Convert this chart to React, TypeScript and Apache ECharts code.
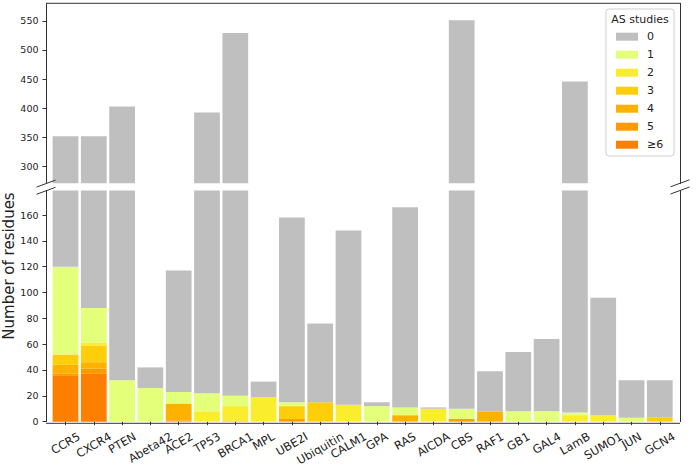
import React, { useEffect, useRef } from 'react';
import * as echarts from 'echarts';

const categories = ['CCR5', 'CXCR4', 'PTEN', 'Abeta42', 'ACE2', 'TP53', 'BRCA1', 'MPL', 'UBE2I', 'Ubiquitin', 'CALM1', 'GPA', 'RAS', 'AICDA', 'CBS', 'RAF1', 'GB1', 'GAL4', 'LamB', 'SUMO1', 'JUN', 'GCN4'];

// residues per number of AS studies (stack order bottom -> top)
const studies6 = [36, 37, 0, 0, 0, 0, 0, 0, 0, 0, 0, 0, 0, 0, 0, 0, 0, 0, 0, 0, 0, 0];
const studies5 = [1, 4, 0, 0, 1, 0, 0, 0, 2, 0, 0, 0, 0, 0, 2, 0, 0, 0, 0, 0, 0, 0];
const studies4 = [7, 5, 0, 0, 13, 0, 0, 0, 0, 0, 0, 0, 5, 0, 0, 8, 0, 0, 0, 0, 0, 0];
const studies3 = [8, 13, 0, 0, 0, 0, 1, 0, 10, 15, 0, 0, 0, 0, 0, 0, 0, 0, 0, 0, 0, 3];
const studies2 = [0, 2, 0, 0, 0, 8, 11, 19, 0, 0, 13, 0, 0, 10, 0, 0, 0, 0, 5, 5, 0, 0];
const studies1 = [68, 27, 32, 26, 9, 14, 8, 0, 3, 0, 0, 12, 6, 0, 8, 0, 8, 8, 2, 0, 3, 0];
const studies0 = [232, 264, 371, 16, 94, 371, 509, 12, 143, 61, 135, 3, 155, 1, 541, 31, 46, 56, 439, 91, 29, 29];

const seriesNames = ['≥6', '5', '4', '3', '2', '1', '0'];
const seriesData = [studies6, studies5, studies4, studies3, studies2, studies1, studies0];
const seriesColors = ['#fc7f00', '#fe9900', '#ffb100', '#ffce0a', '#faed2d', '#e4ff7a', '#bfbfbf'];
const legendOrder = ['0', '1', '2', '3', '4', '5', '≥6'];

const topTicks = [300, 350, 400, 450, 500, 550];
const bottomTicks = [0, 20, 40, 60, 80, 100, 120, 140, 160];

const FONT = "'DejaVu Sans', sans-serif";
const TXT = '#222';
const AX = '#333';

export default function App() {
  const ref = useRef<HTMLDivElement>(null);
  useEffect(() => {
    const chart = echarts.init(ref.current!, null, { renderer: 'svg' });

    const AXL = 46, AXR = 680;
    const GL = 51.35, GR = 697 - 673.95;
    const TOP_T = 3.3, TOP_H = 180;
    const BOT_T = 190.5, BOT_H = 232.8;
    const AXIS_Y = BOT_T + BOT_H;

    // rotated label placement like matplotlib (rotation 30, ha center, va top)
    const XFS = 11.5;
    const canvas = document.createElement('canvas');
    const ctx = canvas.getContext('2d')!;
    ctx.font = `${XFS}px 'DejaVu Sans'`;
    const PAD = 8;
    const rich: any = {};
    categories.forEach((c, i) => {
      const w = ctx.measureText(c).width;
      const h = XFS * 1.17;
      const H = 0.5 * w + 0.866 * h;
      const D = PAD + H / 2;
      rich['p' + i] = { fontSize: XFS, fontFamily: FONT, color: TXT, padding: [1.732 * D, D, 0, 0] };
    });

    const series: any[] = [];
    [0, 1].forEach((g) => {
      seriesNames.forEach((name, k) => {
        series.push({
          type: 'bar',
          name,
          xAxisIndex: g,
          yAxisIndex: g === 0 ? 0 : 2,
          stack: g === 0 ? 'top' : 'bottom',
          data: seriesData[k],
          barCategoryGap: '9%',
          itemStyle: { color: seriesColors[k] },
          clip: true,
          emphasis: { disabled: true },
        });
      });
    });

    const yCommon = {
      type: 'value',
      offset: GL - AXL,
      splitLine: { show: false },
      axisLine: { show: true, lineStyle: { color: AX, width: 1 } },
      axisTick: { show: true, length: 3.5, lineStyle: { color: AX } },
    };
    const yRight = (gridIndex: number) => ({
      type: 'value', gridIndex, position: 'right', offset: AXR - (697 - GR), min: 0, max: 1,
      splitLine: { show: false }, axisLabel: { show: false }, axisTick: { show: false },
      axisLine: { show: true, lineStyle: { color: AX, width: 1 } },
    });

    const brk = (cx: number, cy: number) => ({
      type: 'line', z: 10,
      shape: { x1: cx - 9.5, y1: cy + 3.5, x2: cx + 9.5, y2: cy - 3.5 },
      style: { stroke: AX, lineWidth: 1 },
    });

    const option: any = {
      animation: false,
      backgroundColor: '#fff',
      textStyle: { fontFamily: FONT },
      grid: [
        { left: GL, right: GR, top: TOP_T, height: TOP_H },
        { left: GL, right: GR, top: BOT_T, height: BOT_H },
      ],
      xAxis: [
        { type: 'category', gridIndex: 0, data: categories, show: false },
        {
          type: 'category', gridIndex: 1, data: categories,
          axisLine: { show: false },
          axisTick: { show: true, alignWithLabel: true, length: 3.5, lineStyle: { color: AX } },
          axisLabel: {
            interval: 0, rotate: 30, margin: 0, align: 'center', verticalAlign: 'middle',
            formatter: (v: string, i: number) => `{p${i}|${v}}`,
            rich,
          },
        },
      ],
      yAxis: [
        {
          ...yCommon, gridIndex: 0, min: 271.5, max: 580,
          axisLabel: { customValues: topTicks, fontSize: 9.5, color: TXT, fontFamily: FONT, margin: 7.5 },
          axisTick: { ...yCommon.axisTick, customValues: topTicks },
        },
        yRight(0),
        {
          ...yCommon, gridIndex: 1, min: 0, max: 179,
          axisLabel: { customValues: bottomTicks, fontSize: 9.5, color: TXT, fontFamily: FONT, margin: 7.5 },
          axisTick: { ...yCommon.axisTick, customValues: bottomTicks },
        },
        yRight(1),
      ],
      legend: {
        data: legendOrder,
        orient: 'vertical', left: 616, top: 29.7, padding: 0,
        itemWidth: 22, itemHeight: 8, itemGap: 4, icon: 'rect',
        selectedMode: false,
        textStyle: { fontSize: 11, color: TXT, fontFamily: FONT, lineHeight: 14, padding: [0, 0, 0, 4] },
      },
      graphic: [
        { type: 'rect', z: 1, shape: { x: 606, y: 9, width: 68, height: 147, r: 3 }, style: { fill: 'rgba(255,255,255,0.85)', stroke: '#cfcfcf', lineWidth: 1 } },
        { type: 'text', z: 5, x: 640, y: 19, style: { text: 'AS studies', fontSize: 11, fontFamily: FONT, fill: TXT, textAlign: 'center', textVerticalAlign: 'middle' } },
        { type: 'text', z: 5, x: 9, y: 266, rotation: Math.PI / 2, style: { text: 'Number of residues', fontSize: 15, fontFamily: FONT, fill: TXT, textAlign: 'center', textVerticalAlign: 'middle' } },
        { type: 'line', z: 10, shape: { x1: AXL, y1: TOP_T, x2: AXR, y2: TOP_T }, style: { stroke: AX, lineWidth: 1 } },
        { type: 'line', z: 10, shape: { x1: AXL, y1: AXIS_Y, x2: AXR, y2: AXIS_Y }, style: { stroke: AX, lineWidth: 1 } },
        brk(AXL, TOP_T + TOP_H + 0.3),
        brk(AXL, BOT_T + 0.3),
        brk(AXR, TOP_T + TOP_H),
        brk(AXR, BOT_T),
      ],
      series,
    };
    chart.setOption(option);
    return () => chart.dispose();
  }, []);
  return <div ref={ref} style={{ position: 'fixed', left: 0, top: 0, width: 697, height: 468 }} />;
}
